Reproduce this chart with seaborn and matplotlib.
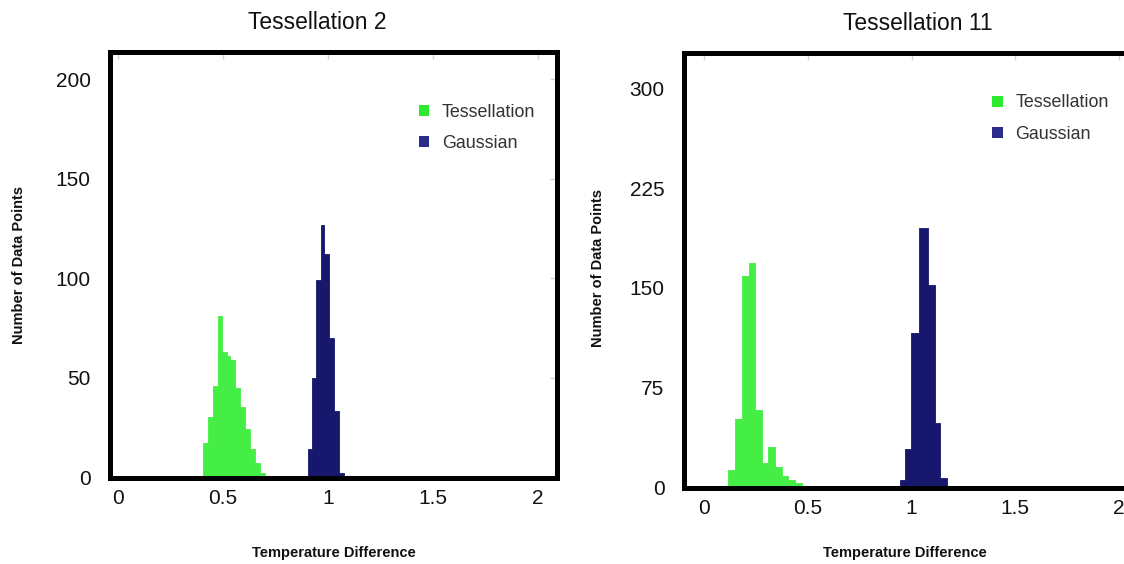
import numpy as np
import pandas as pd
import matplotlib
matplotlib.use("Agg")
import matplotlib.pyplot as plt
from matplotlib.patches import Patch
import seaborn as sns

# ---------------- data ----------------
series_names = ["Tessellation", "Gaussian"]
titles = ["Tessellation 2", "Tessellation 11"]
x_ticks = [0, 0.5, 1, 1.5, 2]
x_tick_labels = ["0", "0.5", "1", "1.5", "2"]
y_ticks_t2 = [0, 50, 100, 150, 200]
y_ticks_t11 = [0, 75, 150, 225, 300]

# Tessellation 2 panel
t2_tess_edges = [0.403, 0.429, 0.455, 0.479, 0.495, 0.520, 0.534, 0.558, 0.581,
                 0.605, 0.629, 0.652, 0.675, 0.700]
t2_tess_counts = [17, 30, 46, 81, 63, 61, 59, 45, 35, 24, 14, 7, 2]
t2_gauss_edges = [0.905, 0.923, 0.944, 0.968, 0.983, 1.007, 1.031, 1.054, 1.078]
t2_gauss_counts = [14, 50, 99, 127, 112, 70, 33, 2]

# Tessellation 11 panel
t11_tess_edges = [0.118, 0.150, 0.182, 0.2145, 0.246, 0.279, 0.310, 0.343, 0.375,
                  0.407, 0.439, 0.471, 0.519, 0.534, 0.562, 0.577, 0.606, 0.621,
                  0.649, 0.664, 0.692, 0.707, 0.734, 0.749]
t11_tess_counts = [13, 51, 159, 169, 58, 18, 30, 15, 8, 5, 3,
                   0, 1, 0, 1, 0, 1, 0, 1, 0, 1, 0, 1]
t11_gauss_edges = [0.942, 0.969, 0.996, 1.0335, 1.079, 1.1135, 1.138, 1.171]
t11_gauss_counts = [5, 29, 116, 195, 152, 48, 7]

# ---------------- style ----------------
sns.set_style("white")
plt.rcParams["font.family"] = ["Liberation Sans", "DejaVu Sans"]

GREEN = "#44EE44"
BLUE = "#17176E"
LEG_GREEN = "#2EEA2E"
LEG_BLUE = "#2B2B8A"

W, H = 1124, 564
fig = plt.figure(figsize=(W / 100, H / 100), dpi=100)


def px_axes(left, top, right, bottom):
    return fig.add_axes([left / W, 1 - bottom / H, (right - left) / W, (bottom - top) / H])


def draw_panel(ax, tess_edges, tess_counts, gauss_edges, gauss_counts,
               xlim, ylim, yticks, title, title_x, title_y,
               xlabel_coords, ylabel_coords, legend_anchor):
    for edges, counts, col, name in [(tess_edges, tess_counts, GREEN, series_names[0]),
                                     (gauss_edges, gauss_counts, BLUE, series_names[1])]:
        e = np.asarray(edges, dtype=float)
        df = pd.DataFrame({"diff": (e[:-1] + e[1:]) / 2,
                           "n": np.asarray(counts, dtype=float)})
        sns.histplot(data=df, x="diff", weights="n", bins=list(e), color=col, alpha=1.0,
                     element="step", fill=True, edgecolor=col, linewidth=0.6,
                     stat="count", ax=ax, label=name)
    ax.set_xlim(*xlim)
    ax.set_ylim(*ylim)
    ax.set_xticks(x_ticks)
    ax.set_xticklabels(x_tick_labels)
    ax.set_yticks(yticks)
    ax.set_yticklabels([str(v) for v in yticks])
    ax.tick_params(axis="both", direction="in", length=5, width=1, color="#d0d0d0",
                   labelsize=15, labelcolor="#111111", top=True, right=True)
    ax.tick_params(axis="x", pad=8)
    ax.tick_params(axis="y", pad=14)
    for s in ax.spines.values():
        s.set_color("black")
        s.set_linewidth(3.6)
        s.set_visible(True)
    ax.set_title(title, fontsize=16.5, color="#111111", x=title_x, y=title_y, pad=0)
    ax.set_xlabel("Temperature Difference", fontsize=10.5, fontweight="bold", color="#111111")
    ax.set_ylabel("Number of Data Points", fontsize=10.5, fontweight="bold", color="#111111")
    ax.xaxis.set_label_coords(*xlabel_coords)
    ax.yaxis.set_label_coords(*ylabel_coords)
    handles = [Patch(facecolor=LEG_GREEN, edgecolor="none", label=series_names[0]),
               Patch(facecolor=LEG_BLUE, edgecolor="none", label=series_names[1])]
    ax.legend(handles=handles, loc="upper left", bbox_to_anchor=legend_anchor,
              frameon=False, fontsize=12.9, handlelength=0.58, handleheight=0.58,
              handletextpad=0.7, labelspacing=0.8, borderpad=0, borderaxespad=0,
              labelcolor="#333333")


# left panel (Tessellation 2)
ax1 = px_axes(110, 52, 557, 478)
draw_panel(ax1, t2_tess_edges, t2_tess_counts, t2_gauss_edges, t2_gauss_counts,
           xlim=(-0.038, 2.092), ylim=(-0.5, 213.8), yticks=y_ticks_t2,
           title=titles[0], title_x=0.463, title_y=1.054,
           xlabel_coords=(0.50, -0.16), ylabel_coords=(-0.188, 0.5),
           legend_anchor=(0.691, 0.879))

# right panel (Tessellation 11) - runs past the right edge of the figure
ax2 = px_axes(684, 53, 1133, 488)
draw_panel(ax2, t11_tess_edges, t11_tess_counts, t11_gauss_edges, t11_gauss_counts,
           xlim=(-0.0964, 2.067), ylim=(-0.7, 327), yticks=y_ticks_t11,
           title=titles[1], title_x=0.5216, title_y=1.054,
           xlabel_coords=(0.4927, -0.133), ylabel_coords=(-0.175, 0.506),
           legend_anchor=(0.6866, 0.9046))

fig.savefig("out.png", dpi=100)
